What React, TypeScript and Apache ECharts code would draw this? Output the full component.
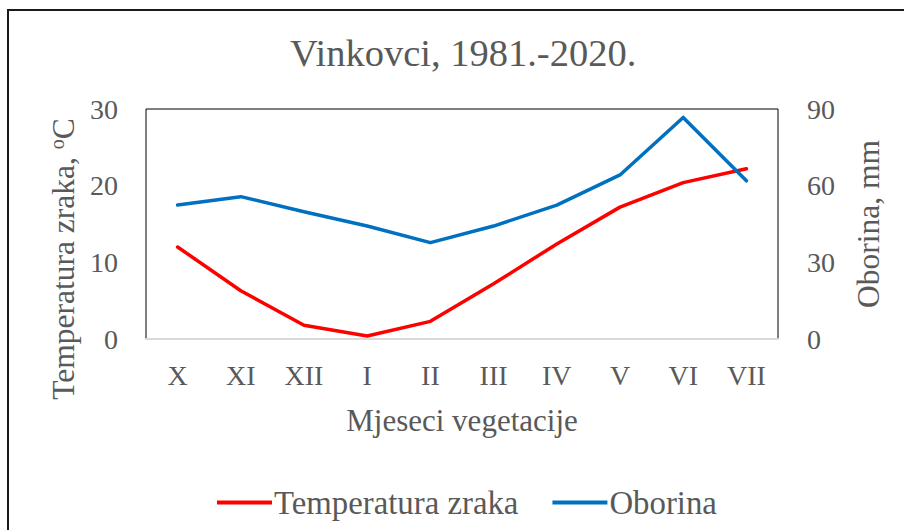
import React, { useEffect, useRef } from "react";
import * as echarts from "echarts";

const months = ["X", "XI", "XII", "I", "II", "III", "IV", "V", "VI", "VII"];
const temperature = [12.0, 6.3, 1.8, 0.4, 2.3, 7.2, 12.4, 17.2, 20.4, 22.2];
const precipitation = [52.4, 55.7, 49.8, 44.2, 37.7, 44.2, 52.4, 64.2, 86.7, 61.9];
const leftTicks = [0, 10, 20, 30];
const rightTicks = [0, 30, 60, 90];

const FONT = "Liberation Serif";
const GREY = "#595959";

export default function App() {
  const ref = useRef<HTMLDivElement>(null);
  useEffect(() => {
    if (!ref.current) return;
    const chart = echarts.init(ref.current, undefined, { renderer: "svg" });
    chart.setOption({
      animation: false,
      backgroundColor: "#ffffff",
      textStyle: { fontFamily: FONT, color: GREY },
      title: {
        text: "Vinkovci, 1981.-2020.",
        left: 290,
        top: 33,
        padding: 0,
        textStyle: { fontFamily: FONT, fontSize: 38.5, fontWeight: "normal", color: GREY },
      },
      graphic: [
        {
          type: "rect",
          shape: { x: 8, y: 10, width: 920, height: 540 },
          style: { fill: "none", stroke: "#1a1a1a", lineWidth: 2 },
          silent: true,
        },
      ],
      legend: {
        left: 212,
        top: 481,
        icon: "rect",
        itemWidth: 55,
        itemHeight: 4,
        itemGap: 34,
        textStyle: { fontFamily: FONT, fontSize: 32.8, color: GREY, padding: [0, 0, 0, -3] },
        data: ["Temperatura zraka", "Oborina"],
      },
      grid: {
        left: 146,
        right: 126,
        top: 109,
        bottom: 191,
        containLabel: false,
        show: true,
        borderColor: "#000000",
        borderWidth: 1,
        backgroundColor: "transparent",
      },
      xAxis: [
        {
          type: "category",
          data: months,
          boundaryGap: true,
          axisLine: { show: true, onZero: false, lineStyle: { color: "#d9d9d9", width: 2 } },
          axisTick: { show: false },
          axisLabel: { fontFamily: FONT, fontSize: 28, color: GREY, margin: 22 },
          name: "Mjeseci vegetacije",
          nameLocation: "middle",
          nameGap: 66,
          nameTextStyle: { fontFamily: FONT, fontSize: 31, color: GREY },
        },
      ],
      yAxis: [
        {
          type: "value",
          min: leftTicks[0],
          max: leftTicks[leftTicks.length - 1],
          interval: 10,
          position: "left",
          axisLine: { show: false },
          axisTick: { show: false },
          splitLine: { show: false },
          axisLabel: { fontFamily: FONT, fontSize: 28, color: GREY, margin: 28 },
          name: "Temperatura zraka, {sup|o}C",
          nameLocation: "middle",
          nameRotate: 90,
          nameGap: 67,
          nameTextStyle: {
            fontFamily: FONT,
            fontSize: 31.5,
            color: GREY,
            padding: [0, 70, 0, 0],
            rich: {
              sup: { fontFamily: FONT, fontSize: 20, color: GREY, verticalAlign: "bottom", padding: [0, 0, 12, 0] },
            },
          },
        },
        {
          type: "value",
          min: rightTicks[0],
          max: rightTicks[rightTicks.length - 1],
          interval: 30,
          position: "right",
          axisLine: { show: false },
          axisTick: { show: false },
          splitLine: { show: false },
          axisLabel: { fontFamily: FONT, fontSize: 28, color: GREY, margin: 29 },
          name: "Oborina, mm",
          nameLocation: "middle",
          nameRotate: 90,
          nameGap: 74,
          nameTextStyle: { fontFamily: FONT, fontSize: 31.5, color: GREY },
        },
      ],
      series: [
        {
          name: "Temperatura zraka",
          type: "line",
          data: temperature,
          xAxisIndex: 0,
          yAxisIndex: 0,
          showSymbol: false,
          symbol: "none",
          itemStyle: { color: "#ff0000" },
          lineStyle: { color: "#ff0000", width: 3.5, cap: "round", join: "round" },
        },
        {
          name: "Oborina",
          type: "line",
          data: precipitation,
          xAxisIndex: 0,
          yAxisIndex: 1,
          showSymbol: false,
          symbol: "none",
          itemStyle: { color: "#0070c0" },
          lineStyle: { color: "#0070c0", width: 3.5, cap: "round", join: "round" },
        },
      ],
    });
    return () => chart.dispose();
  }, []);
  return (
    <div
      ref={ref}
      style={{ position: "absolute", left: 0, top: 0, width: 904, height: 530 }}
    />
  );
}
